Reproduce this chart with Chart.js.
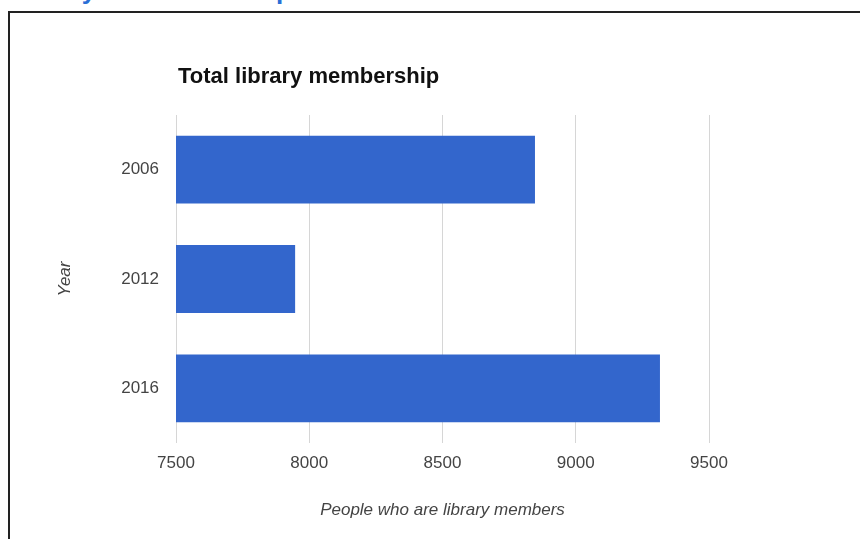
<!DOCTYPE html>
<html>
<head>
<meta charset="utf-8">
<script src="https://cdn.jsdelivr.net/npm/chart.js@4"></script>
<style>
  body { margin: 0; background: #fff; overflow: hidden; }
  #heading {
    position: absolute; left: 8px; top: -25px;
    font: bold 26px "Liberation Sans", Arial, sans-serif; color: #2a6fd6;
    white-space: nowrap; word-spacing: 34px;
  }
  #frame {
    position: absolute; left: 8px; top: 11px; width: 900px; height: 600px;
    border-top: 2px solid #222; border-left: 2px solid #222;
  }
  #wrap { position: absolute; left: 0; top: 0; width: 860px; height: 539px; }
</style>
</head>
<body>
<div id="heading">Library membership</div>
<div id="frame"></div>
<div id="wrap"><canvas id="membershipChart" width="860" height="539"></canvas></div>
<script>
// membership counts per survey year
const years = ["2006", "2012", "2016"];
const members = [8847, 7947, 9316];
const xTicks = [7500, 8000, 8500, 9000, 9500];

const chartTitle = "Total library membership";
const FONT = "'Liberation Sans', Arial, sans-serif";

// title sits flush with the left edge of the plot area
const titlePlugin = {
  id: "leftTitle",
  afterDraw(chart) {
    const ctx = chart.ctx;
    ctx.save();
    ctx.font = "bold 22px " + FONT;
    ctx.fillStyle = "#111";
    ctx.textBaseline = "middle";
    ctx.textAlign = "left";
    ctx.fillText(chartTitle, chart.chartArea.left + 2, 77);
    ctx.restore();
  },
};

const ctx = document.getElementById("membershipChart");
const membershipChart = new Chart(ctx, {
  type: "bar",
  data: {
    labels: years,
    datasets: [
      {
        data: members,
        backgroundColor: "#3366cc",
        borderWidth: 0,
        barPercentage: 0.62,
        categoryPercentage: 1,
      },
    ],
  },
  plugins: [titlePlugin],
  options: {
    indexAxis: "y",
    responsive: false,
    animation: false,
    layout: { padding: { left: 55, right: 151, top: 115, bottom: 19 } },
    plugins: {
      legend: { display: false },
      tooltip: { enabled: false },
    },
    scales: {
      x: {
        min: xTicks[0],
        max: xTicks[xTicks.length - 1],
        afterBuildTicks: (scale) => {
          scale.ticks = xTicks.map((v) => ({ value: v }));
        },
        afterFit: (scale) => {
          scale.height = 77;
        },
        grid: { color: "#d6d6d6", drawTicks: false },
        border: { display: false },
        ticks: {
          padding: 10,
          color: "#444",
          font: { family: FONT, size: 17 },
          callback: (v) => String(v),
        },
        title: {
          display: true,
          text: "People who are library members",
          color: "#444",
          padding: 0,
          font: { family: FONT, size: 17, style: "italic" },
        },
      },
      y: {
        afterFit: (scale) => {
          scale.width = 121;
        },
        grid: { display: false, drawTicks: false },
        border: { display: false },
        ticks: {
          padding: 17,
          color: "#444",
          font: { family: FONT, size: 17 },
        },
        title: {
          display: true,
          text: "Year",
          color: "#444",
          padding: 0,
          font: { family: FONT, size: 17, style: "italic" },
        },
      },
    },
  },
});
</script>
</body>
</html>
